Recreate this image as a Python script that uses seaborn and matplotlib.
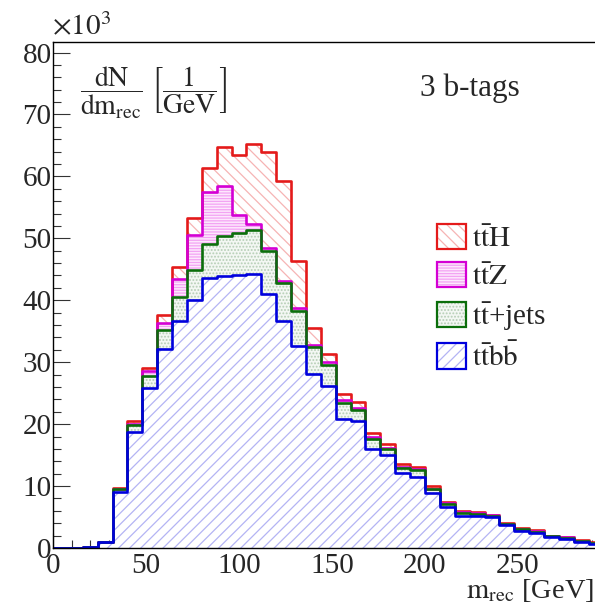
import numpy as np
import pandas as pd
import matplotlib
matplotlib.use('Agg')
from matplotlib import pyplot as plt
from matplotlib.patches import Patch
from matplotlib.ticker import MultipleLocator
import seaborn as sns

# m_rec bins (GeV), 8 GeV wide
edges = list(range(0, 297, 8))
centers = [e + 4 for e in edges[:-1]]

# events per bin, in units of 10^3
ttbb = [0.05, 0.08, 0.15, 0.9, 9.0, 18.7, 25.9, 32.1, 36.7, 40.1, 43.6, 43.9, 44.0, 44.3,
        41.0, 36.6, 32.6, 28.1, 26.2, 20.9, 20.5, 16.0, 15.0, 12.1, 11.5, 8.8, 6.6, 5.2,
        5.1, 4.95, 3.7, 2.75, 2.5, 1.8, 1.4, 1.0, 0.7]
ttjets = [0, 0, 0, 0.05, 0.5, 1.2, 1.9, 3.1, 3.8, 4.8, 5.5, 6.4, 6.8, 7.0,
          6.9, 6.2, 5.7, 4.3, 3.4, 2.5, 1.8, 1.6, 1.0, 0.8, 1.1, 0.65, 0.5, 0.45,
          0.4, 0.25, 0.15, 0.25, 0.1, 0.15, 0.25, 0.15, 0.1]
ttz = [0, 0, 0, 0.02, 0.1, 0.2, 0.7, 1.2, 3.0, 5.7, 8.4, 8.2, 3.0, 1.0,
       0.6, 0.3, 0.4, 0.3, 0.5, 0.5, 0.3, 0.3, 0.2, 0.2, 0.2, 0.15, 0.1, 0.1,
       0.1, 0.1, 0.07, 0.08, 0.08, 0.03, 0.05, 0.03, 0.02]
tth = [0, 0, 0, 0.03, 0.15, 0.4, 0.6, 1.3, 1.9, 2.7, 3.8, 6.3, 9.6, 12.9,
       15.5, 16.2, 7.7, 2.8, 1.3, 1.0, 0.9, 0.6, 0.6, 0.4, 0.3, 0.4, 0.2, 0.15,
       0.15, 0.1, 0.18, 0.12, 0.17, 0.02, 0.1, 0.07, 0.08]

labels = [r'$\mathrm{t\bar{t}H}$', r'$\mathrm{t\bar{t}Z}$',
          r'$\mathrm{t\bar{t}}$+jets', r'$\mathrm{t\bar{t}b\bar{b}}$']

sns.set_style('ticks')
plt.rcParams['font.family'] = ['Liberation Serif', 'DejaVu Serif']
plt.rcParams['mathtext.fontset'] = 'stix'
plt.rcParams['hatch.linewidth'] = 0.9

# stacked tops, drawn from the total downwards
stack = np.cumsum([ttbb, ttjets, ttz, tth], axis=0)
df = pd.DataFrame({'m': centers, 'ttbb': stack[0], 'ttjets': stack[1],
                   'ttz': stack[2], 'tth': stack[3]})

# (column, line colour, face colour, hatch colour, hatch)
styles = [('tth', '#e41a1a', 'white', '#f6b4b4', '\\\\\\'),
          ('ttz', '#d400d4', '#fde8fd', '#f3a3f3', '------'),
          ('ttjets', '#0b6e0b', '#f3f7f3', '#b5cdb5', '.....'),
          ('ttbb', '#0000dd', 'white', '#b4b4f4', '///')]

fig = plt.figure(figsize=(5.95, 6.05), dpi=100)
ax = fig.add_axes([53/595, 57/605, 542/595, 506/605])

handles = []
for col, lc, fc, hc, hatch in styles:
    sns.histplot(data=df, x='m', weights=col, bins=edges, element='step', fill=True,
                 facecolor=fc, edgecolor=hc, hatch=hatch, linewidth=0, ax=ax)
    sns.histplot(data=df, x='m', weights=col, bins=edges, element='step', fill=False,
                 color=lc, linewidth=1.9, ax=ax)
    handles.append((Patch(facecolor=fc, edgecolor=hc, hatch=hatch, linewidth=0),
                    Patch(facecolor='none', edgecolor=lc, linewidth=1.6)))

ax.set_xlim(0, 291.4)
ax.set_ylim(0, 81.7)
ax.set_xlabel('')
ax.set_ylabel('')
ax.xaxis.set_major_locator(MultipleLocator(50))
ax.xaxis.set_minor_locator(MultipleLocator(10))
ax.yaxis.set_major_locator(MultipleLocator(10))
ax.yaxis.set_minor_locator(MultipleLocator(2))
ax.tick_params(which='both', direction='in', labelsize=21, width=0.8, color='#333333')
ax.tick_params(axis='y', which='major', length=12, pad=1)
ax.tick_params(axis='y', which='minor', length=6)
ax.tick_params(axis='x', which='major', length=11, pad=3.5)
ax.tick_params(axis='x', which='minor', length=5.5)
for s in ['left', 'bottom', 'top']:
    ax.spines[s].set_visible(True)
    ax.spines[s].set_linewidth(1.0)
    ax.spines[s].set_color('black')
ax.spines['right'].set_visible(False)

fig.text(52/595, 1 - 27/605, r'$\times10^{3}$', fontsize=21, va='center', ha='left')
fig.text(80/595, 1 - 93/605,
         r'$\dfrac{\mathrm{dN}}{\mathrm{dm_{rec}}}\ \left[\dfrac{1}{\mathrm{GeV}}\right]$',
         fontsize=20, va='center', ha='left')
fig.text(420/595, 1 - 88/605, '3 b-tags', fontsize=22.5, va='center', ha='left')
fig.text(594/595, 1 - 591/605, r'$\mathrm{m_{rec}}$ [GeV]', fontsize=20.5,
         va='center', ha='right')

ax.legend(handles, labels, loc='upper left', bbox_to_anchor=(437/595, 1 - 224/605),
          bbox_transform=fig.transFigure, frameon=False, fontsize=21,
          handlelength=1.0, handleheight=0.95, handletextpad=0.2, labelspacing=0.33,
          borderpad=0, borderaxespad=0)

fig.savefig('out.png', dpi=100)
